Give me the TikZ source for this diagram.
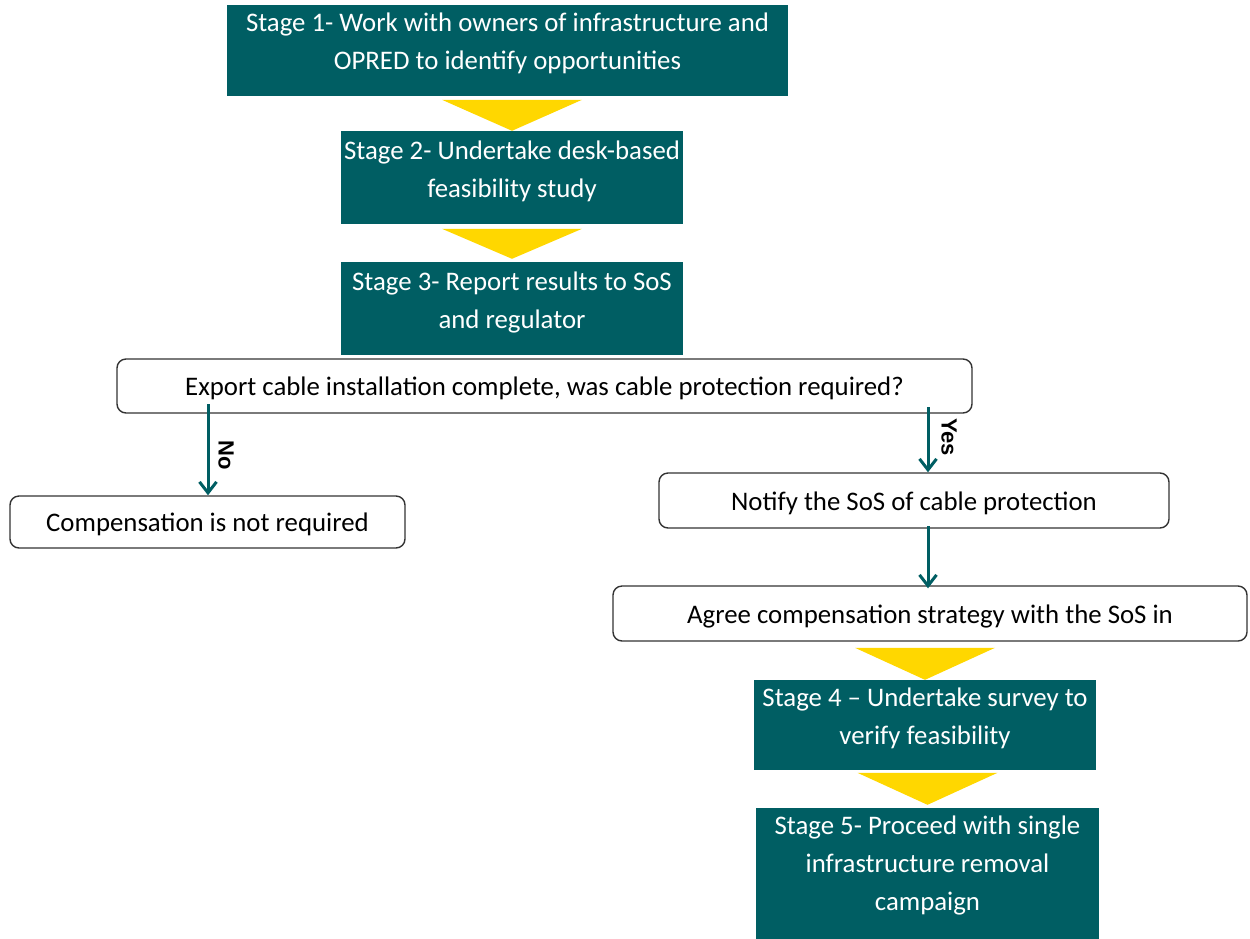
\documentclass[tikz,border=0pt]{standalone}
\usepackage{fontspec}
\setmainfont{Carlito}
\newfontfamily\lblfont{Liberation Sans}
\usetikzlibrary{arrows.meta,calc}
\definecolor{teal1}{HTML}{005E63}
\definecolor{gold1}{HTML}{FFD700}
\begin{document}
\begin{tikzpicture}[x=1pt,y=-1pt,
  stagebox/.style={fill=teal1, draw=none, inner sep=0pt},
  stagetext/.style={text=white, align=center, inner sep=0pt, font=\fontsize{26.8}{38}\selectfont},
  roundbox/.style={draw=black!80, line width=1.4pt, rounded corners=9pt, fill=white, inner sep=0pt, text height=25pt, text depth=5.5pt, font=\fontsize{26.8}{30}\selectfont},
  arr/.style={draw=teal1, line width=3pt, -{Straight Barb[length=11pt,width=17pt,line width=3pt]}},
  lbl/.style={font=\lblfont\bfseries\fontsize{22}{22}\selectfont, inner sep=0pt},
  tri/.style={fill=gold1}]
\useasboundingbox (0,0) rectangle (1250,938);

% Stage boxes
\node[stagebox, minimum width=561pt, minimum height=91pt] (s1) at (507.5,50.5) {};
\node[stagetext] (s1t) at (507.5,43) {Stage 1- Work with owners of infrastructure and\\OPRED to identify opportunities};

\node[stagebox, minimum width=342pt, minimum height=93pt] (s2) at (512,177.5) {};
\node[stagetext] (s2t) at (512,171) {Stage 2- Undertake desk-based\\feasibility study};

\node[stagebox, minimum width=342pt, minimum height=93pt] (s3) at (512,308.5) {};
\node[stagetext] (s3t) at (512,302) {Stage 3- Report results to SoS\\and regulator};

% Decision and outcome boxes
\node[roundbox, minimum width=855pt, minimum height=54pt] (dec) at (544.5,386) {Export cable installation complete, was cable protection required?};
\node[roundbox, minimum width=395pt, minimum height=52pt] (comp) at (207.5,522) {Compensation is not required};
\node[roundbox, minimum width=510pt, minimum height=55pt] (notify) at (914,500.5) {Notify the SoS of cable protection};
\node[roundbox, minimum width=634pt, minimum height=55pt] (agree) at (930,613.5) {Agree compensation strategy with the SoS in};

\node[stagebox, minimum width=342pt, minimum height=90pt] (s4) at (925,725) {};
\node[stagetext] (s4t) at (925,718) {Stage 4 -- Undertake survey to\\verify feasibility};

\node[stagebox, minimum width=343pt, minimum height=132pt] (s5) at (927.5,874) {};
\node[stagetext] (s5t) at (927.5,865.5) {Stage 5- Proceed with single\\infrastructure removal\\campaign};

% Yellow chevrons
\fill[tri] ($(s2.north)+(-70,-31)$) -- ($(s2.north)+(70,-31)$) -- (s2.north) -- cycle;
\fill[tri] ($(s3.north)+(-70,-33)$) -- ($(s3.north)+(70,-33)$) -- ($(s3.north)+(0,-3)$) -- cycle;
\fill[tri] ($(s4.north)+(-70,-32)$) -- ($(s4.north)+(70,-32)$) -- (s4.north) -- cycle;
\fill[tri] ($(s5.north)+(-70,-35)$) -- ($(s5.north)+(70,-35)$) -- ($(s5.north)+(0,-3)$) -- cycle;

% Connectors
\coordinate (nostart) at (208,404);
\coordinate (yesstart) at (928,407);
\coordinate (nastart) at (928,526);
\draw[arr] (nostart) -- (nostart |- comp.north);
\draw[arr] (yesstart) -- (yesstart |- notify.north);
\draw[arr] (nastart) -- ($(nastart |- agree.north)+(0,3)$);

% Labels
\node[lbl, rotate=-90] (nolbl) at (226,455) {No};
\node[lbl, rotate=-90] (yeslbl) at (949,437) {Yes};
\end{tikzpicture}
\end{document}
